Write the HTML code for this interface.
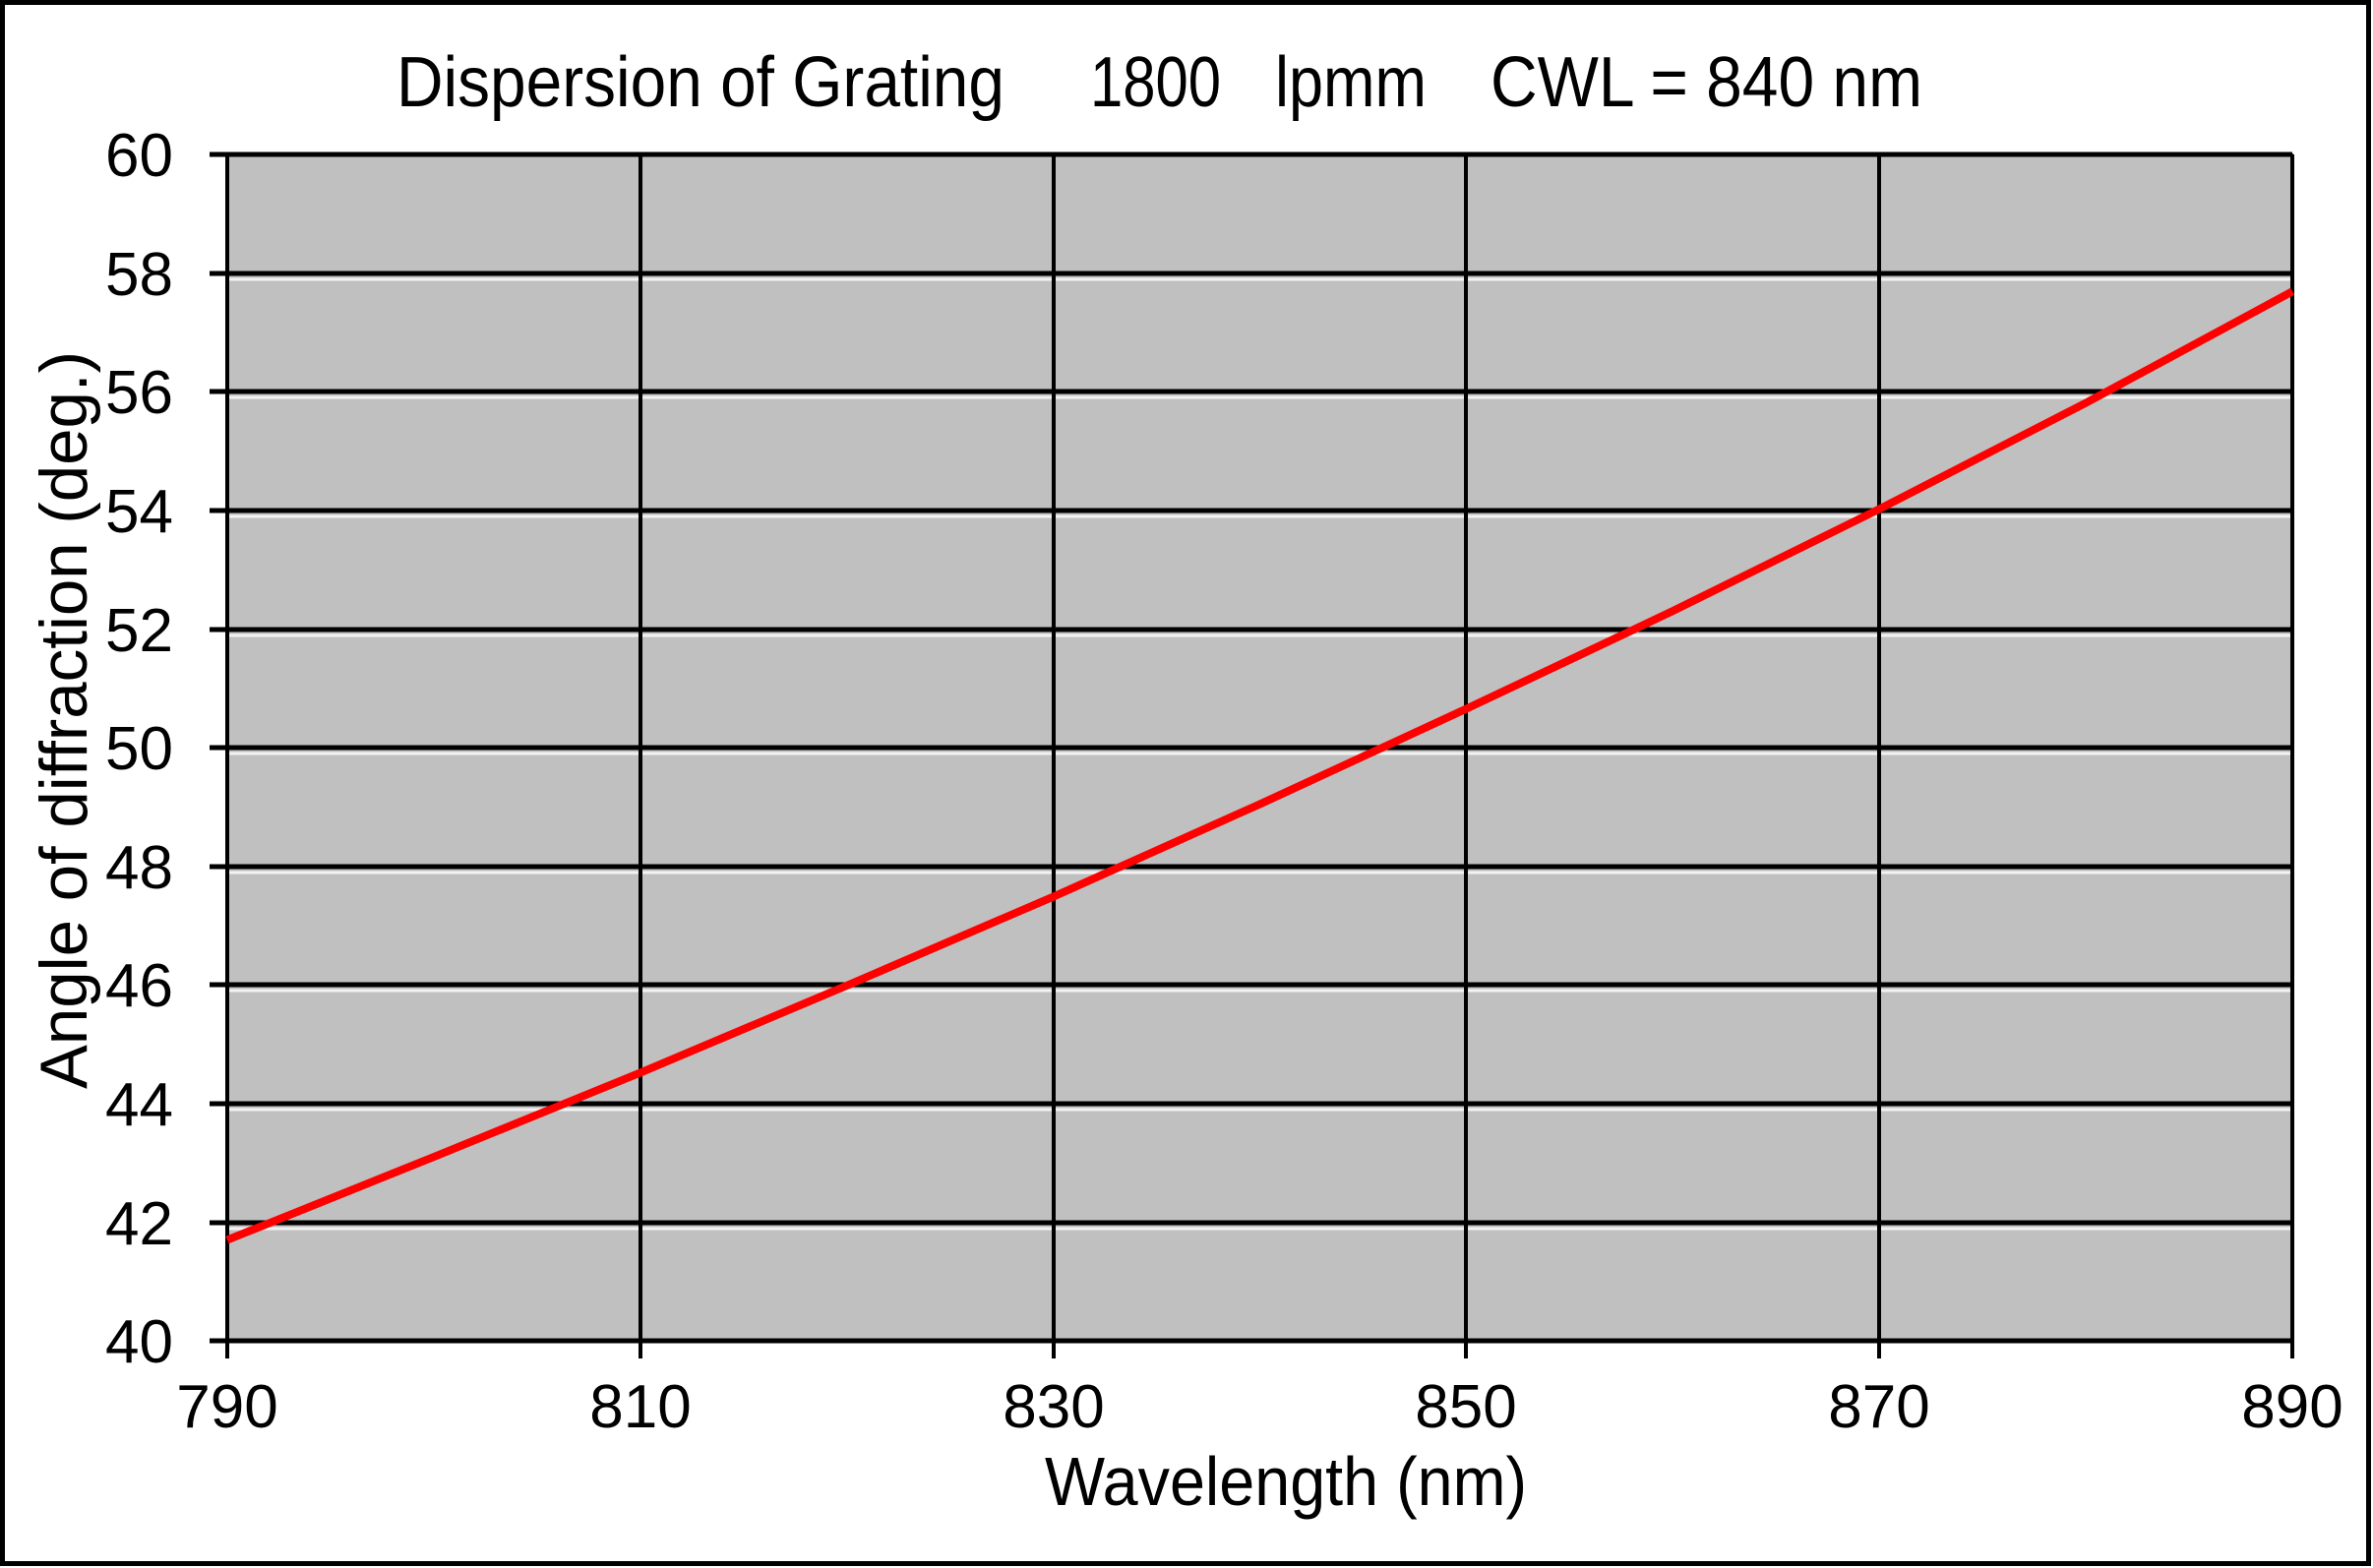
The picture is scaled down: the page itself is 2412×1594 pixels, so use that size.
<!DOCTYPE html>
<html><head><style>html,body{margin:0;padding:0;background:#fff}svg{display:block}</style></head>
<body>
<svg width="2412" height="1594" viewBox="0 0 2412 1594" xmlns="http://www.w3.org/2000/svg" font-family="Liberation Sans, Arial, sans-serif">
<rect x="0" y="0" width="2412" height="1594" fill="#fff"/>
<rect x="2.5" y="2.5" width="2405" height="1587" fill="none" stroke="#000" stroke-width="5"/>
<rect x="231" y="157" width="2099" height="1206" fill="#c0c0c0" stroke="#555" stroke-width="2"/>
<g stroke="#fff" stroke-width="3" opacity="0.8">
<line x1="231" y1="284" x2="2330" y2="284"/><line x1="231" y1="404" x2="2330" y2="404"/><line x1="231" y1="525" x2="2330" y2="525"/><line x1="231" y1="646" x2="2330" y2="646"/><line x1="231" y1="766" x2="2330" y2="766"/><line x1="231" y1="887" x2="2330" y2="887"/><line x1="231" y1="1007" x2="2330" y2="1007"/><line x1="231" y1="1128" x2="2330" y2="1128"/><line x1="231" y1="1249" x2="2330" y2="1249"/>
</g>
<g stroke="#000" stroke-width="5">
<line x1="213" y1="157" x2="2330" y2="157"/><line x1="213" y1="278" x2="2330" y2="278"/><line x1="213" y1="398" x2="2330" y2="398"/><line x1="213" y1="519" x2="2330" y2="519"/><line x1="213" y1="640" x2="2330" y2="640"/><line x1="213" y1="760" x2="2330" y2="760"/><line x1="213" y1="881" x2="2330" y2="881"/><line x1="213" y1="1001" x2="2330" y2="1001"/><line x1="213" y1="1122" x2="2330" y2="1122"/><line x1="213" y1="1243" x2="2330" y2="1243"/><line x1="213" y1="1363" x2="2330" y2="1363"/>
</g>
<g stroke="#000" stroke-width="4">
<line x1="231" y1="157" x2="231" y2="1381"/><line x1="651" y1="157" x2="651" y2="1381"/><line x1="1071" y1="157" x2="1071" y2="1381"/><line x1="1490" y1="157" x2="1490" y2="1381"/><line x1="1910" y1="157" x2="1910" y2="1381"/><line x1="2330" y1="157" x2="2330" y2="1381"/>
</g>
<polyline fill="none" stroke="#f00" stroke-width="8" stroke-linejoin="round"
points="231,1260.5 441,1176.1 651,1090.4 861,1001.8 1071,911.4 1281,817.3 1490,720.8 1700,621.3 1910,517.6 2120,409.7 2330,296.3"/>
<g font-size="62" text-anchor="end" fill="#000">
<text x="176" y="179">60</text><text x="176" y="300">58</text><text x="176" y="420">56</text><text x="176" y="541">54</text><text x="176" y="662">52</text><text x="176" y="782">50</text><text x="176" y="903">48</text><text x="176" y="1023">46</text><text x="176" y="1144">44</text><text x="176" y="1265">42</text><text x="176" y="1385">40</text>
</g>
<g font-size="62" text-anchor="middle" fill="#000">
<text x="231" y="1451">790</text><text x="651" y="1451">810</text><text x="1071" y="1451">830</text><text x="1490" y="1451">850</text><text x="1910" y="1451">870</text><text x="2330" y="1451">890</text>
</g>
<text x="1062" y="1530" font-size="70" textLength="490" lengthAdjust="spacingAndGlyphs">Wavelength  (nm)</text>
<text transform="translate(88,1107) rotate(-90)" font-size="68" textLength="750" lengthAdjust="spacingAndGlyphs">Angle of diffraction (deg.)</text>
<g font-size="72" fill="#000">
<text x="403" y="108" textLength="618" lengthAdjust="spacingAndGlyphs">Dispersion of Grating</text>
<text x="1108" y="108" textLength="133" lengthAdjust="spacingAndGlyphs">1800</text>
<text x="1296" y="108" textLength="154" lengthAdjust="spacingAndGlyphs">lpmm</text>
<text x="1515" y="108" textLength="439" lengthAdjust="spacingAndGlyphs">CWL = 840 nm</text>
</g>
</svg>
</body></html>
